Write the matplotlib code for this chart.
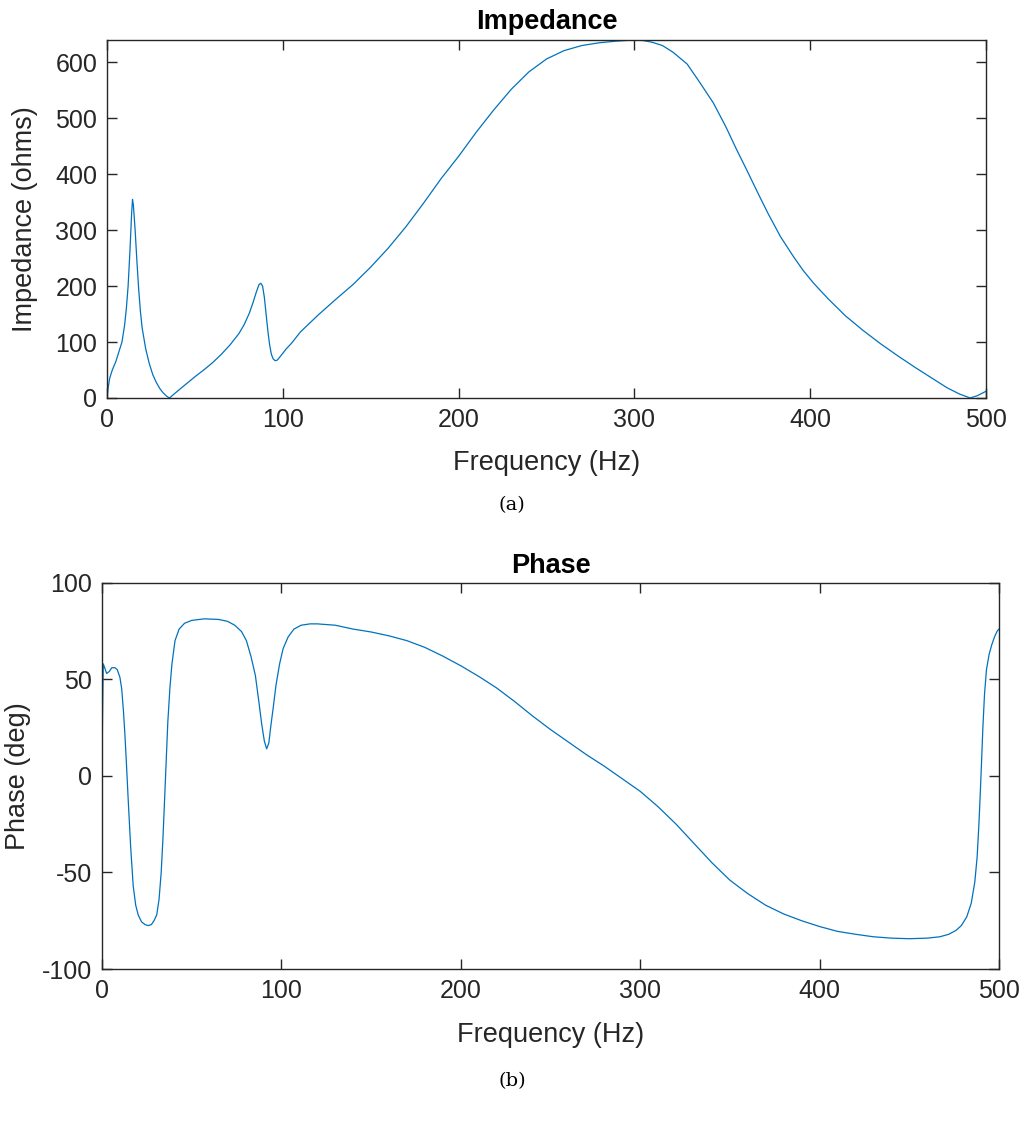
"""
Impedance and phase of the measured response, 0-500 Hz.
Two stacked panels, (a) impedance and (b) phase.
"""
import matplotlib
matplotlib.use('Agg')
import matplotlib.pyplot as plt

# values
imp_freq = [0, 0.5, 1.5, 3, 5, 7, 8.5, 10, 11, 12, 13, 14, 14.5, 15, 16, 17, 18, 19, 20,
            22, 24, 26, 28, 30, 32, 34, 35.5, 40, 45, 50, 55, 60, 65, 70, 75, 78, 81,
            83, 85, 86.5, 87.5, 88.5, 89.5, 90.5, 91.5, 92.5, 93.5, 94.5, 95.5, 96.5,
            97.5, 99, 102, 105, 110, 120, 130, 140, 150, 160, 170, 180, 190, 200, 210,
            220, 230, 240, 250, 260, 270, 280, 290, 300, 305, 310, 316, 322, 330, 337,
            345, 352, 358, 364, 370, 376, 383, 390, 396, 402, 410, 420, 430, 440, 450,
            460, 470, 478, 485, 491, 495, 500]
imp_ohms = [0, 15, 35, 50, 65, 85, 100, 130, 160, 200, 260, 330, 355, 345, 300, 245,
            195, 155, 125, 88, 62, 42, 28, 17, 9, 3, 0, 12, 25, 38, 50, 63, 78, 95, 115,
            131, 152, 170, 190, 203, 205, 200, 180, 150, 120, 95, 78, 70, 67, 67, 70, 76,
            88, 98, 118, 148, 176, 203, 234, 268, 306, 348, 392, 432, 475, 515, 552, 583,
            606, 621, 630, 635, 638, 640, 639, 636, 630, 618, 597, 565, 527, 485, 445,
            407, 368, 330, 289, 255, 228, 205, 178, 147, 121, 97, 75, 54, 34, 18, 7, 0,
            4, 12]

phase_freq = [0, 0.3, 0.7, 1.5, 2.6, 4, 5.5, 7.2, 8.5, 10, 11, 12, 12.8, 13.7, 14.7, 16,
              17.4, 18.8, 20.2, 22, 24, 25.8, 27.5, 29, 30.5, 31.8, 33, 34, 35, 35.8,
              36.7, 37.9, 39, 40.7, 43, 46, 50, 57, 65, 70, 74, 77.8, 80.5, 83, 85.5,
              87.5, 89, 90.5, 91.8, 93, 94, 95.4, 97, 99, 101, 103.8, 107, 111, 116,
              120, 130, 140, 150, 160, 170, 180, 190, 200, 210, 220, 230, 240, 250, 260,
              270, 280, 290, 300, 310, 320, 330, 340, 350, 360, 370, 380, 390, 400, 410,
              420, 430, 440, 450, 460, 467, 472, 476, 479, 482, 484.5, 486.5, 487.8,
              488.8, 489.6, 490.3, 491, 491.9, 493, 494.5, 496, 497.5, 499, 500]
phase_deg = [0, 30, 58, 56, 53, 54, 56, 56, 55, 51, 45, 33, 21, 5, -14, -37, -57, -67,
             -72, -75.5, -77, -77.5, -77, -75, -72, -64, -50, -32, -10, 8, 28, 46, 58,
             70, 76, 79, 80.5, 81.3, 81, 80, 78, 74.7, 70, 62, 52, 38, 27, 18, 14, 17,
             25, 35, 47, 58, 66, 72, 76, 78, 78.7, 78.7, 78, 76, 74.5, 72.5, 70, 66.5,
             62, 57, 51.5, 45.5, 38.5, 31, 24, 17.5, 11, 5, -1.5, -8, -16, -25, -35,
             -45, -54, -61, -67, -71.5, -75, -78, -80.5, -82, -83.3, -84, -84.3, -84,
             -83.3, -82, -80, -77.5, -73, -66, -55, -42, -25, -8, 8, 25, 42, 55, 63, 68,
             72, 75, 76]

line_col = '#0072BD'
axis_col = '#262626'

plt.rcParams['font.family'] = ['Liberation Sans', 'DejaVu Sans']
plt.rcParams['axes.unicode_minus'] = False

fig = plt.figure(figsize=(10.26, 11.23), dpi=100)

ax1 = fig.add_axes([0.1043, 0.6456, 0.8567, 0.3188])
ax2 = fig.add_axes([0.0994, 0.1371, 0.8743, 0.3440])


def style(ax):
    for s in ax.spines.values():
        s.set_color(axis_col)
        s.set_linewidth(1.0)
    ax.tick_params(direction='in', length=7, width=1.0, top=True, right=True,
                   colors=axis_col, labelsize=18, pad=7)
    ax.set_xlim(0, 500)
    ax.set_xticks([0, 100, 200, 300, 400, 500])


ax1.plot(imp_freq, imp_ohms, color=line_col, lw=0.9)
style(ax1)
ax1.set_ylim(0, 640)
ax1.set_yticks([0, 100, 200, 300, 400, 500, 600])
ax1.set_title('Impedance', fontsize=19.5, fontweight='bold', pad=8)
ax1.set_xlabel('Frequency (Hz)', fontsize=19.5, color=axis_col, va='center')
ax1.set_ylabel('Impedance (ohms)', fontsize=19.5, color=axis_col, va='center')
ax1.xaxis.set_label_coords(0.5, -0.181)
ax1.yaxis.set_label_coords(-0.093, 0.5)

ax2.plot(phase_freq, phase_deg, color=line_col, lw=0.9)
style(ax2)
ax2.set_ylim(-100, 100)
ax2.set_yticks([-100, -50, 0, 50, 100])
ax2.set_title('Phase', fontsize=19.5, fontweight='bold', pad=7)
ax2.set_xlabel('Frequency (Hz)', fontsize=19.5, color=axis_col, va='center')
ax2.set_ylabel('Phase (deg)', fontsize=19.5, color=axis_col, va='center')
ax2.xaxis.set_label_coords(0.5, -0.171)
ax2.yaxis.set_label_coords(-0.094, 0.5)

fig.text(0.499, 1 - 505 / 1123, '(a)', family='DejaVu Serif', fontsize=14,
         ha='center', va='center')
fig.text(0.499, 1 - 1081 / 1123, '(b)', family='DejaVu Serif', fontsize=14,
         ha='center', va='center')

fig.savefig('out.png', dpi=100, facecolor='white')
